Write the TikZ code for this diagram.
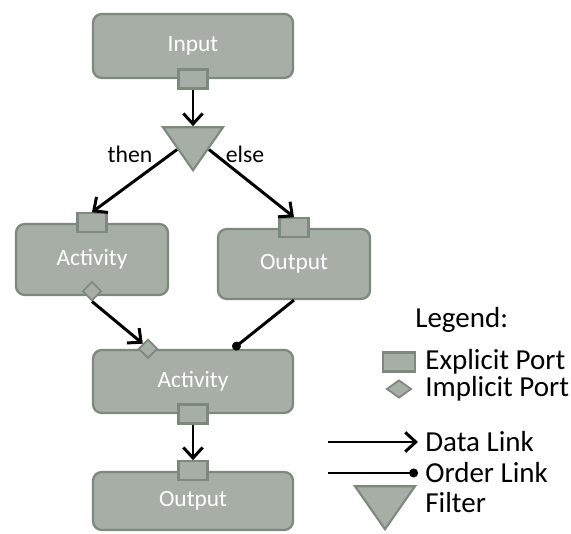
\documentclass[tikz,border=0pt]{standalone}
\usepackage{fontspec}
\setmainfont{Carlito}
\usetikzlibrary{arrows.meta,shapes.geometric,calc}
\definecolor{boxfill}{HTML}{A6AEA6}
\definecolor{boxline}{HTML}{7D897D}

\begin{document}
\begin{tikzpicture}[
block/.style={
rectangle,
rounded corners=5pt,
line width=1.3pt,
draw=boxline,
fill=boxfill,
text=white,
font=\fontsize{13.3}{16}\selectfont
},
port/.style={
rectangle,
minimum width=0.58cm,
minimum height=0.38cm,
inner sep=0pt,
line width=1.3pt,
draw=boxline,
fill=boxfill
},
iport/.style={
diamond,
minimum width=0.38cm,
minimum height=0.38cm,
inner sep=0pt,
line width=1pt,
draw=boxline,
fill=boxfill
},
filter/.style={
isosceles triangle,
isosceles triangle stretches,
shape border rotate=270,
minimum width=1.2cm,
minimum height=0.86cm,
inner sep=0pt,
line width=1.2pt,
draw=boxline,
fill=boxfill
},
link/.style={line width=1.7pt,-{Straight Barb[length=6pt,width=11pt]}},
olink/.style={line width=1.7pt,-{Circle[length=5pt]}},
lab/.style={font=\fontsize{13.5}{16}\selectfont,inner xsep=0.14cm,inner ysep=0pt},
leglab/.style={lab,font=\fontsize{16.5}{19}\selectfont}
]

\useasboundingbox (0,0) rectangle (11.42,10.68);

\node[block,minimum width=4cm,minimum height=1.28cm] (in) at (3.86,9.76) {Input};
\node[port] (inp) at (in.south) {};

\node[filter,anchor=apex] (flt) at (3.86,7.22) {};
\node[lab] (then) at (2.6,7.6) {then};
\node[lab] (else) at (4.9,7.6) {else};

\node[block,minimum width=3.04cm,minimum height=1.42cm] (act1) at (1.84,5.49) {Activity};
\node[port] (act1p) at (act1.north) {};
\node[iport] (act1i) at ([yshift=0.1cm]act1.south) {};

\node[block,minimum width=3.04cm,minimum height=1.4cm] (out1) at (5.88,5.4) {Output};
\node[port] (out1p) at (out1.north) {};

\node[block,minimum width=4cm,minimum height=1.26cm] (act2) at (3.86,3.05) {Activity};
\node[iport] (act2i) at ([xshift=-0.9cm]act2.north) {};
\coordinate (act2o) at ([xshift=0.8cm]act2.north);
\node[port] (act2p) at (act2.south) {};

\node[block,minimum width=4cm,minimum height=1.16cm] (out2) at (3.86,0.66) {Output};
\node[port] (out2p) at (out2.north) {};

\draw[link] (inp) -- (flt.north);
\draw[link] ($(flt.apex)!0.5!(flt.right corner)$) -- (act1p.north);
\draw[link] ($(flt.apex)!0.5!(flt.left corner)$) -- (out1p.north);
\draw[link] (act1i.south) -- (act2i.north west);
\draw[olink] (out1.south) -- (act2o);
\draw[link] (act2p.south) -- (out2p.north);

\node[leglab,anchor=west] (leg) at (8.16,4.28) {Legend:};
\node[port,minimum width=0.64cm] (legexp) at (7.98,3.44) {};
\node[leglab,anchor=west] (legexpt) at (8.36,3.44) {Explicit Port};
\node[iport,minimum width=0.5cm,minimum height=0.36cm] (legimp) at (7.98,2.9) {};
\node[leglab,anchor=west] (legimpt) at (8.36,2.9) {Implicit Port};
\coordinate (legd) at (6.56,1.84);
\node[leglab,anchor=west] (legdt) at (8.36,1.84) {Data Link};
\coordinate (lego) at (6.56,1.22);
\node[leglab,anchor=west] (legot) at (8.36,1.22) {Order Link};
\node[filter,anchor=apex] (legflt) at (7.7,0.04) {};
\node[leglab,anchor=west] (legft) at (8.36,0.62) {Filter};

\draw[link] (legd) -- (legdt.west);
\draw[olink] (lego) -- (legot.west);

\end{tikzpicture}
\end{document}
